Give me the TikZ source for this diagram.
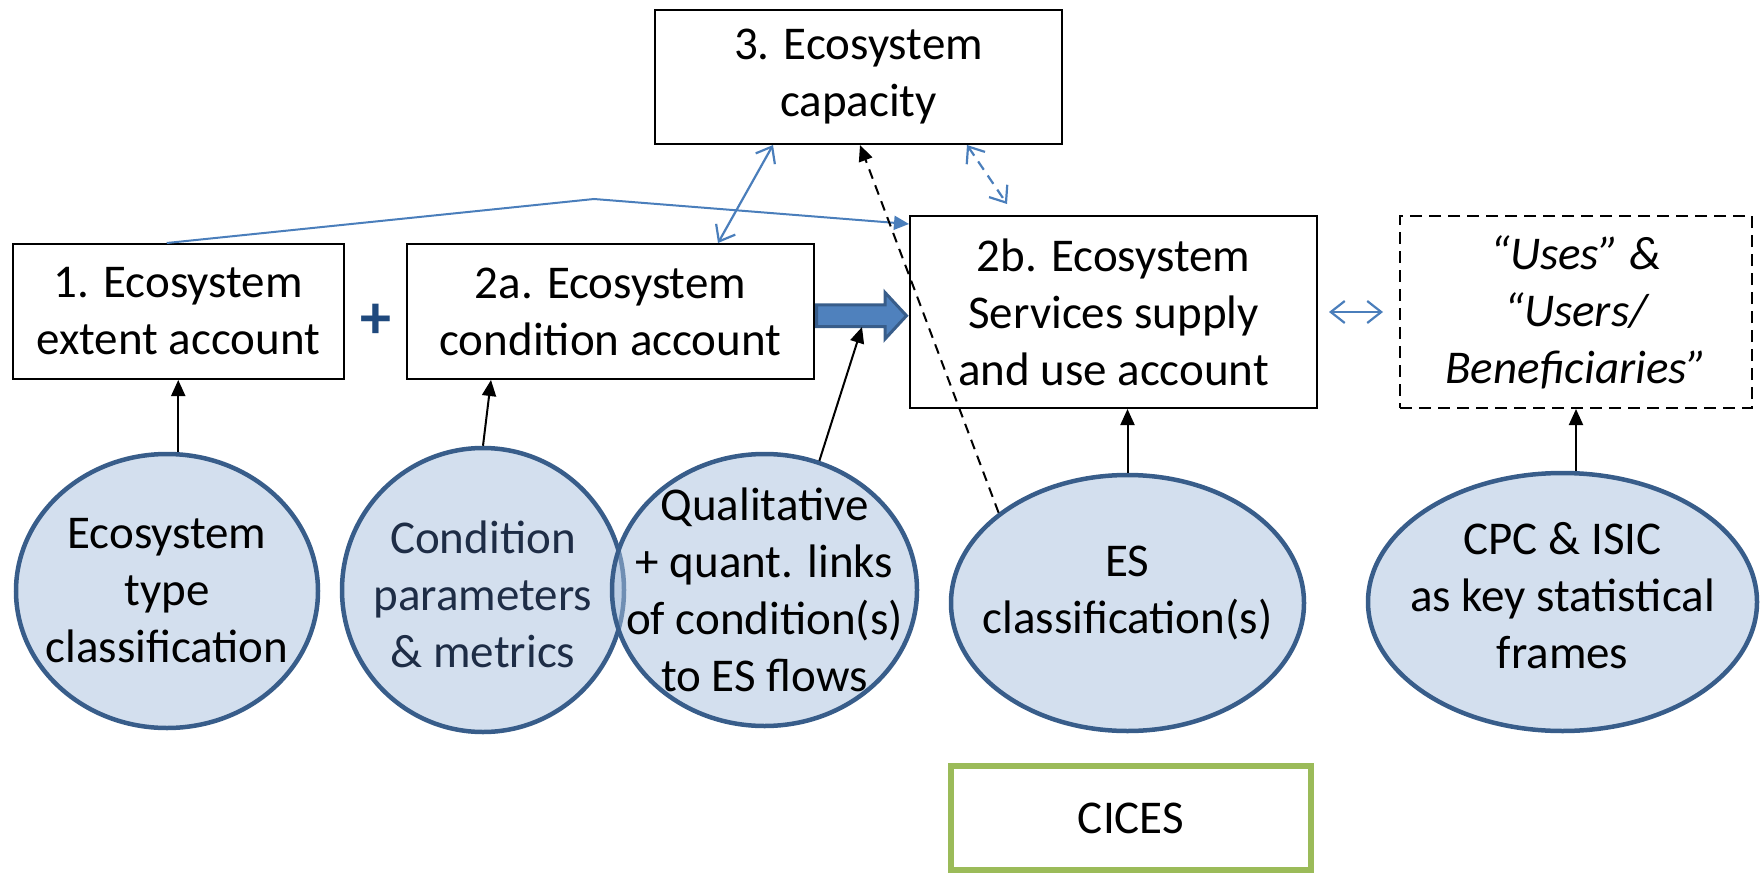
\documentclass[tikz,border=0pt]{standalone}
\usepackage{fontspec}
\setmainfont{Carlito}
\usetikzlibrary{arrows.meta,shapes.geometric,calc}
\definecolor{ellfill}{RGB}{167,191,221}
\definecolor{elldraw}{RGB}{56,93,138}
\definecolor{lblue}{RGB}{74,126,187}
\definecolor{darrow}{RGB}{56,93,138}
\definecolor{farrow}{RGB}{79,129,189}
\definecolor{plusblue}{RGB}{31,73,125}
\definecolor{cgreen}{RGB}{155,187,89}
\definecolor{navytext}{RGB}{30,45,70}
\newcommand{\bigfont}{\fontsize{47}{57}\selectfont}
\tikzset{
  acct/.style={draw=black, line width=2pt, align=center, inner sep=0pt, font=\bigfont},
  ell/.style={ellipse, draw=elldraw, line width=4.5pt, fill=ellfill, fill opacity=0.5, draw opacity=1, inner sep=0pt},
  elltext/.style={align=center, font=\bigfont, fill opacity=1, text opacity=1, inner sep=0pt},
  blk/.style={-{Triangle[length=16pt,width=14pt]}, line width=2pt, black},
  bluel/.style={lblue, line width=2pt},
  vv/.style={{Straight Barb[length=14pt,width=22pt]}-{Straight Barb[length=14pt,width=22pt]}, lblue, line width=2.2pt},
}
\begin{document}
\begin{tikzpicture}[x=1pt,y=-1pt]
\useasboundingbox (0,0) rectangle (1764,875);
% boxes
\node[acct, minimum width=407, minimum height=134] (box3) at (858.5,77) {3. Ecosystem\\capacity};
\node[acct, minimum width=331.5, minimum height=135] (box1) at (178.25,311.5) {1. Ecosystem\\extent account};
\node[acct, minimum width=407, minimum height=135] (box2a) at (610.5,311.5) {2a. Ecosystem\\condition account};
\node[acct, minimum width=407, minimum height=192] (box2b) at (1113.5,312) {2b. Ecosystem\\Services supply\\and use account};
\node[acct, dash pattern=on 12pt off 7pt, minimum width=352, minimum height=192, font=\bigfont\itshape] (uses) at (1576,312) {“Uses” \&\\“Users/\\Beneficiaries”};
\node[acct, draw=cgreen, line width=6pt, minimum width=360, minimum height=104] (cices) at (1131,818) {CICES};
\node[font=\bfseries\fontsize{62}{70}\selectfont, text=plusblue, inner sep=0pt] (plus) at (376,321) {+};
% ellipses
\node[ell, minimum width=302, minimum height=274,
  label={[elltext]center:Ecosystem\\type\\classification}] (e1) at (167,591) {};
\node[ell, minimum width=282, minimum height=284,
  label={[elltext, text=navytext, yshift=-4pt]center:Condition\\parameters\\\& metrics}] (e2) at (483,590) {};
\node[ell, minimum width=305, minimum height=272,
  label={[elltext]center:Qualitative\\+ quant. links\\of condition(s)\\to ES flows}] (e3) at (764.5,590) {};
\node[ell, minimum width=353, minimum height=256,
  label={[elltext, yshift=10pt]center:ES\\classification(s)}] (es) at (1127.5,603) {};
\node[ell, minimum width=389, minimum height=258,
  label={[elltext, yshift=6pt]center:CPC \& ISIC\\as key statistical\\frames}] (cpc) at (1562.5,602) {};
% thick arrow
\draw[fill=farrow, draw=darrow, line width=3pt, line join=miter]
  (816.5,304.8) -- (885,304.8) -- (885,292.5) -- (906.5,315.7) -- (885,339) -- (885,326.5) -- (816.5,326.5) -- cycle;
\coordinate (thk) at (862,327);
% blue connectors
\coordinate (peak) at (594,199);
\draw[bluel, -{Triangle[length=15pt,width=14pt]}] ([xshift=-11.5pt]box1.north) -- (peak) -- ([yshift=-9pt]box2b.north west);
\draw[vv] ([xshift=-85.5pt]box3.south) -- ([xshift=107.5pt]box2a.north);
\coordinate (dd) at (1007,204);
\draw[vv, dash pattern=on 10pt off 7pt] ([xshift=108.5pt]box3.south) -- (dd);
\draw[vv] ([xshift=11pt]box2b.east) -- ([xshift=-16pt]uses.west);
% black connectors
\draw[blk] (box1.south |- e1.north) -- (box1.south);
\draw[blk] (e2.north) -- ([xshift=-119.5pt]box2a.south);
\draw[blk] (e3.67) -- (thk);
\draw[blk] (es.north) -- (es.north |- box2b.south);
\draw[blk] (uses.south |- cpc.north) -- (uses.south);
\draw[blk, dash pattern=on 10pt off 7pt] (es.145) -- ([xshift=1.5pt]box3.south);
\end{tikzpicture}
\end{document}
